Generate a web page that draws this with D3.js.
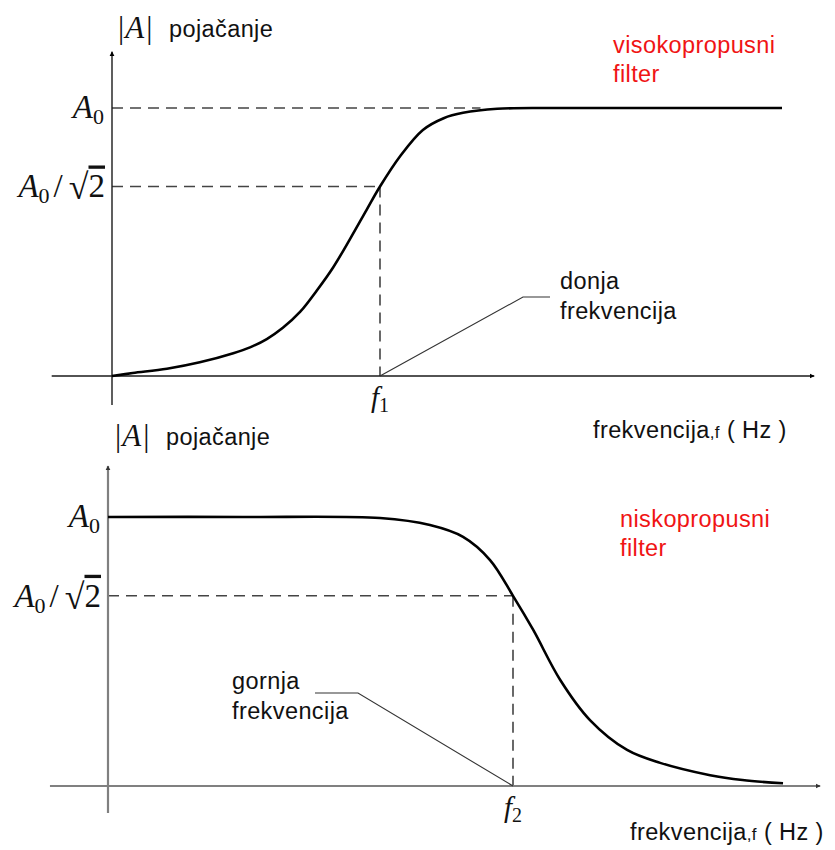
<!DOCTYPE html>
<html>
<head>
<meta charset="utf-8">
<script src="https://cdn.jsdelivr.net/npm/d3@7"></script>
<style>
  body { margin: 0; background: #fff; }
  svg { display: block; }
  .sans { font-family: "Liberation Sans", Arial, sans-serif; letter-spacing: 0.4px; }
  .serif { font-family: "Liberation Serif", "Times New Roman", serif; }
</style>
</head>
<body>
<div id="chart"></div>
<script>
// ----- Data (frequency in arbitrary units, gain as fraction of A0)

// high-pass (visokopropusni) curve
const hpFreq = [0, 0.31, 0.82, 1.31, 1.81, 2.06, 2.31, 2.55, 2.81, 3.06, 3.3, 3.55, 3.8, 4.0, 4.3, 4.64, 4.95, 5.24, 5.75, 6.5, 8.0, 10];
const hpGain = [0, 0.011, 0.027, 0.051, 0.085, 0.107, 0.138, 0.18, 0.24, 0.32, 0.405, 0.51, 0.62, 0.707, 0.82, 0.918, 0.962, 0.982, 0.997, 1.0, 1.0, 1.0];

// low-pass (niskopropusni) curve
const lpFreq = [0, 2.0, 4.03, 4.77, 5.26, 5.66, 6.0, 6.3, 6.7, 7.14, 7.69, 8.18, 8.92, 9.4, 10];
const lpGain = [1.0, 1.0, 0.996, 0.97, 0.926, 0.84, 0.707, 0.58, 0.394, 0.245, 0.134, 0.086, 0.04, 0.022, 0.01];

// reference levels / cutoffs
const gainLevels = [1, Math.SQRT1_2];   // A0, A0/sqrt(2)
const cutoffs = [4, 6];                  // f1, f2
const cutoffNames = ["1", "2"];
const filterNames = [["visokopropusni", "filter"], ["niskopropusni", "filter"]];
const leaderNames = [["donja", "frekvencija"], ["gornja", "frekvencija"]];
const yTitle = "pojačanje";
const xTitle = "frekvencija";

// ----- Panel layout
const panels = [
  {
    x0: 112, x1: 782, y0: 376, y1: 108,
    xExt: [-0.9, 10.48], yExt: [-0.108, 1.21],
    axisColor: "#1a1a1a", axisWidth: 1.4,
    freq: hpFreq, gain: hpGain, cutoff: cutoffs[0], cutName: cutoffNames[0],
    name: filterNames[0], nameX: 613, nameY: 53,
    leader: leaderNames[0], leaderText: [560, 289], leaderPts: [[550, 297], [523, 297]],
    yTitle: [118, 37], xTitle: [593, 438]
  },
  {
    x0: 108, x1: 783, y0: 786, y1: 517,
    xExt: [-0.86, 10.55], yExt: [-0.1, 1.19],
    axisColor: "#808080", axisWidth: 2.2,
    freq: lpFreq, gain: lpGain, cutoff: cutoffs[1], cutName: cutoffNames[1],
    name: filterNames[1], nameX: 620, nameY: 527,
    leader: leaderNames[1], leaderText: [232, 689], leaderPts: [[315, 693], [358, 693]],
    yTitle: [115, 445], xTitle: [630, 840]
  }
];

const W = 835, H = 850;
const FS = 23.5; // sans label size

const svg = d3.select("#chart")
  .append("svg")
  .attr("width", W)
  .attr("height", H)
  .attr("viewBox", `0 0 ${W} ${H}`);

svg.append("rect").attr("width", W).attr("height", H).attr("fill", "#fff");

const defs = svg.append("defs");
panels.forEach((p, i) => {
  defs.append("marker")
    .attr("id", "arrow" + i)
    .attr("viewBox", "0 0 10 10")
    .attr("refX", 9).attr("refY", 5)
    .attr("markerWidth", 5).attr("markerHeight", 6)
    .attr("markerUnits", "userSpaceOnUse")
    .attr("orient", "auto")
    .append("path")
    .attr("d", "M0,0 L10,5 L0,10 z")
    .attr("fill", i === 0 ? "#000" : "#333");
});

// A0  or  A0/sqrt(2) in a LaTeX-ish look
function mathLevelLabel(g, x, y, withRoot) {
  const t = g.append("text")
    .attr("class", "serif")
    .attr("x", x).attr("y", y)
    .attr("text-anchor", "end")
    .attr("font-size", 33)
    .attr("fill", "#111");
  t.append("tspan").attr("font-style", "italic").text("A");
  t.append("tspan").attr("font-size", 22).attr("dx", 0).attr("dy", 6).text("0");
  if (withRoot) {
    t.append("tspan").attr("dx", 4).attr("dy", -6).text("/");
    t.append("tspan").attr("font-size", 36).attr("dx", 6).attr("dy", 2).text("√");
    t.append("tspan").attr("dy", -2).style("text-decoration", "overline").text("2");
  }
}

panels.forEach((p, i) => {
  const x = d3.scaleLinear().domain([0, 10]).range([p.x0, p.x1]);
  const y = d3.scaleLinear().domain([0, 1]).range([p.y0, p.y1]);
  const g = svg.append("g");

  // dashed guide lines
  const dash = (x1, y1, x2, y2) => g.append("line")
    .attr("x1", x1).attr("y1", y1).attr("x2", x2).attr("y2", y2)
    .attr("stroke", "#444")
    .attr("stroke-width", 1.6)
    .attr("stroke-dasharray", "11,7");
  if (i === 0) dash(x(0), y(gainLevels[0]), x(5.5), y(gainLevels[0]));
  dash(x(0), y(gainLevels[1]), x(p.cutoff), y(gainLevels[1]));
  dash(x(p.cutoff), y(gainLevels[1]), x(p.cutoff), y(0));

  // axes
  g.append("line")
    .attr("x1", x(p.xExt[0])).attr("x2", x(p.xExt[1]))
    .attr("y1", y(0)).attr("y2", y(0))
    .attr("stroke", p.axisColor)
    .attr("stroke-width", p.axisWidth)
    .attr("marker-end", `url(#arrow${i})`);
  g.append("line")
    .attr("x1", x(0)).attr("x2", x(0))
    .attr("y1", y(p.yExt[0])).attr("y2", y(p.yExt[1]))
    .attr("stroke", p.axisColor)
    .attr("stroke-width", p.axisWidth)
    .attr("marker-end", `url(#arrow${i})`);

  // curve
  const pts = p.freq.map((f, k) => [f, p.gain[k]]);
  g.append("path")
    .datum(pts)
    .attr("fill", "none")
    .attr("stroke", "#000")
    .attr("stroke-width", 2.6)
    .attr("d", d3.line().x(d => x(d[0])).y(d => y(d[1])).curve(d3.curveCatmullRom.alpha(0.5)));

  // y tick labels
  mathLevelLabel(g, x(0) - 8, y(gainLevels[0]) + 10, false);
  mathLevelLabel(g, x(0) - 7, y(gainLevels[1]) + 11, true);

  // cutoff label
  const ft = g.append("text")
    .attr("class", "serif")
    .attr("x", x(p.cutoff)).attr("y", y(0) + 31)
    .attr("text-anchor", "middle")
    .attr("font-size", 29)
    .attr("fill", "#111");
  ft.append("tspan").attr("font-style", "italic").text("f");
  ft.append("tspan").attr("font-size", 20).attr("dy", 5).text(p.cutName);

  // y title
  const yt = g.append("text")
    .attr("class", "serif")
    .attr("x", p.yTitle[0]).attr("y", p.yTitle[1] + 1)
    .attr("font-size", 31)
    .attr("fill", "#111");
  yt.append("tspan").text("|");
  yt.append("tspan").attr("font-style", "italic").attr("dx", 1).text("A");
  yt.append("tspan").attr("dx", 2).text("|");
  g.append("text")
    .attr("class", "sans")
    .attr("x", p.yTitle[0] + 51).attr("y", p.yTitle[1])
    .attr("font-size", FS)
    .attr("fill", "#111")
    .text(yTitle);

  // x title
  const xt = g.append("text")
    .attr("class", "sans")
    .attr("x", p.xTitle[0]).attr("y", p.xTitle[1])
    .attr("font-size", FS)
    .attr("fill", "#111");
  xt.append("tspan").text(xTitle);
  xt.append("tspan").attr("font-size", 17).text(",f");
  xt.append("tspan").text(" ( Hz )");

  // filter name (red)
  p.name.forEach((s, k) => {
    g.append("text")
      .attr("class", "sans")
      .attr("x", p.nameX).attr("y", p.nameY + k * 29)
      .attr("font-size", FS)
      .attr("fill", "#f01414")
      .text(s);
  });

  // leader line + annotation
  const leaderPath = i === 0
    ? [[x(p.cutoff), y(0)], p.leaderPts[1], p.leaderPts[0]]
    : [p.leaderPts[0], p.leaderPts[1], [x(p.cutoff), y(0)]];
  g.append("path")
    .attr("d", d3.line()(leaderPath))
    .attr("fill", "none")
    .attr("stroke", "#333")
    .attr("stroke-width", 1.1);
  p.leader.forEach((s, k) => {
    g.append("text")
      .attr("class", "sans")
      .attr("x", p.leaderText[0]).attr("y", p.leaderText[1] + k * 30)
      .attr("font-size", FS)
      .attr("fill", "#111")
      .text(s);
  });
});
</script>
</body>
</html>
